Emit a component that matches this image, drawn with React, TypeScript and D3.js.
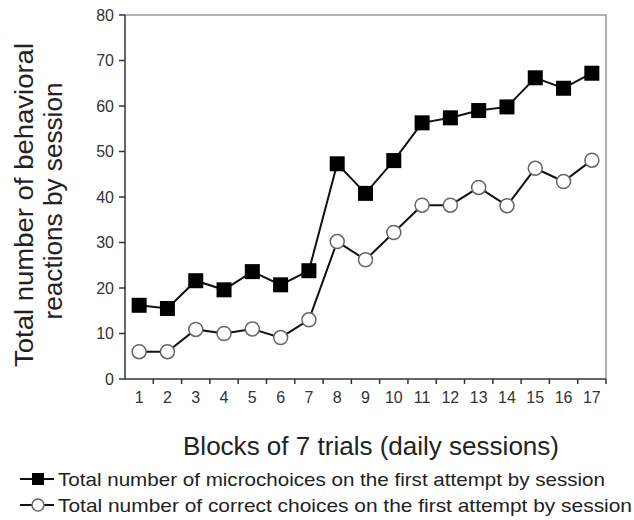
import * as d3 from "d3";
import React from "react";

// blocks of 7 trials (daily sessions)
const sessions = [1, 2, 3, 4, 5, 6, 7, 8, 9, 10, 11, 12, 13, 14, 15, 16, 17];
// total number of microchoices on the first attempt
const microchoices = [16.2, 15.5, 21.6, 19.6, 23.6, 20.7, 23.8, 47.3, 40.8, 48.0, 56.3, 57.4, 59.0, 59.8, 66.2, 63.9, 67.2];
// total number of correct choices on the first attempt
const correct = [6.0, 6.0, 10.9, 10.0, 11.0, 9.1, 13.0, 30.2, 26.2, 32.2, 38.2, 38.2, 42.1, 38.1, 46.3, 43.4, 48.1];
const yTicks = [0, 10, 20, 30, 40, 50, 60, 70, 80];

const legendLabels = [
  "Total number of microchoices on the first attempt by session",
  "Total number of correct choices on the first attempt by session",
];

const W = 634;
const H = 520;
const left = 125;
const right = 606;
const top = 15;
const bottom = 379;
const font = "'Liberation Sans', Arial, Helvetica, sans-serif";

export default function App() {
  const x = d3.scaleBand<number>().domain(sessions).range([left, right]).padding(0);
  const y = d3.scaleLinear().domain([0, 80]).range([bottom, top]);
  const bw = x.bandwidth();
  const cx = (s: number) => (x(s) as number) + bw / 2;

  const line = d3
    .line<number>()
    .x((d, i) => cx(sessions[i]))
    .y((d) => y(d));

  return (
    <svg width={W} height={H} style={{ position: "absolute", left: 0, top: 0, background: "#fff" }} fontFamily={font}>
      {/* frame: top and right in grey */}
      <path d={`M${left},${top}H${right}V${bottom}`} fill="none" stroke="#9a9a9a" strokeWidth={1.5} />
      {/* y axis */}
      <line x1={left} x2={left} y1={top} y2={bottom} stroke="#333" strokeWidth={1.5} />
      {yTicks.map((t) => (
        <g key={t}>
          <line x1={left - 6} x2={left} y1={y(t)} y2={y(t)} stroke="#333" strokeWidth={1.5} />
          <text x={left - 11} y={y(t)} dy="0.35em" textAnchor="end" fontSize={16} fill="#333">
            {t}
          </text>
        </g>
      ))}
      {/* x axis */}
      <line x1={left} x2={right} y1={bottom} y2={bottom} stroke="#333" strokeWidth={1.5} />
      {sessions.map((s) => (
        <g key={s}>
          <line x1={(x(s) as number) + bw} x2={(x(s) as number) + bw} y1={bottom} y2={bottom + 5} stroke="#333" strokeWidth={1.5} />
          <text x={cx(s)} y={bottom + 24} textAnchor="middle" fontSize={16} fill="#333">
            {s}
          </text>
        </g>
      ))}

      {/* series lines */}
      <path d={line(microchoices) || ""} fill="none" stroke="#111" strokeWidth={2} />
      <path d={line(correct) || ""} fill="none" stroke="#111" strokeWidth={2} />
      {microchoices.map((v, i) => (
        <rect key={"m" + i} x={cx(sessions[i]) - 7.5} y={y(v) - 7.5} width={15} height={15} fill="#000" />
      ))}
      {correct.map((v, i) => (
        <circle key={"c" + i} cx={cx(sessions[i])} cy={y(v)} r={7} fill="#fff" stroke="#666" strokeWidth={1.5} />
      ))}

      {/* axis titles */}
      <g transform={`translate(33, 205) rotate(-90)`}>
        <text textAnchor="middle" fontSize={25} fill="#222" textLength={324} lengthAdjust="spacingAndGlyphs">
          Total number of behavioral
        </text>
      </g>
      <g transform={`translate(62, 201) rotate(-90)`}>
        <text textAnchor="middle" fontSize={25} fill="#222" textLength={237} lengthAdjust="spacingAndGlyphs">
          reactions by session
        </text>
      </g>
      <text x={371} y={455} textAnchor="middle" fontSize={25} fill="#222" textLength={376} lengthAdjust="spacingAndGlyphs">
        Blocks of 7 trials (daily sessions)
      </text>

      {/* legend */}
      {legendLabels.map((lab, i) => {
        const ly = 479 + i * 26;
        return (
          <g key={lab}>
            <line x1={20} x2={54} y1={ly} y2={ly} stroke="#111" strokeWidth={2} />
            {i === 0 ? (
              <rect x={32} y={ly - 6} width={12} height={12} fill="#000" />
            ) : (
              <circle cx={38} cy={ly} r={6} fill="#fff" stroke="#666" strokeWidth={1.5} />
            )}
            <text x={58} y={ly} dy="0.35em" fontSize={19} fill="#222" textLength={i === 0 ? 547 : 574} lengthAdjust="spacingAndGlyphs">
              {lab}
            </text>
          </g>
        );
      })}
    </svg>
  );
}
